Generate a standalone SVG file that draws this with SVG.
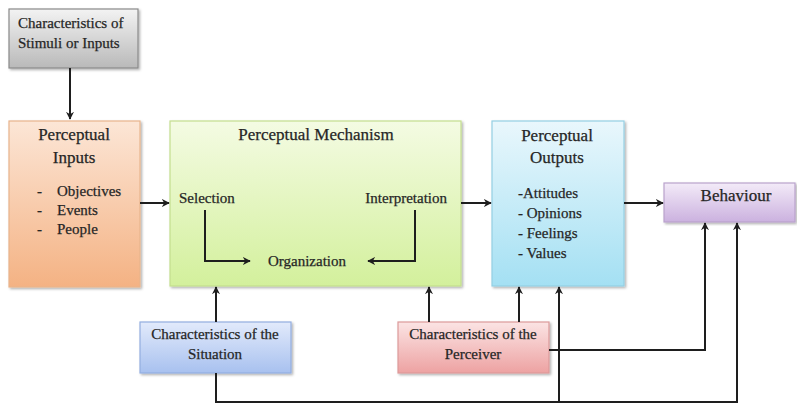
<svg xmlns="http://www.w3.org/2000/svg" width="797" height="403" viewBox="0 0 797 403">
<style>
text{font-family:"Liberation Serif","Times New Roman",serif;fill:#262626;font-size:15px;stroke:#262626;stroke-width:0.25}
.h{font-size:17px}
.m{text-anchor:middle}
.box{stroke-width:1.2}
.c{fill:none;stroke:#1e1e1e;stroke-width:2}
</style>
<defs>
<marker id="ah" viewBox="0 0 10 10" refX="9" refY="5" markerWidth="8" markerHeight="8" orient="auto" markerUnits="userSpaceOnUse">
<path d="M0,0 L10,5 L0,10 L3,5 z" fill="#1e1e1e"/>
</marker>
<filter id="sh" x="-5%" y="-5%" width="112%" height="115%">
<feDropShadow dx="1.5" dy="1.5" stdDeviation="1.2" flood-color="#000" flood-opacity="0.3"/>
</filter>
<linearGradient id="gGray" x1="0" y1="0" x2="0" y2="1"><stop offset="0" stop-color="#f3f3f3"/><stop offset="1" stop-color="#b9b9b9"/></linearGradient>
<linearGradient id="gOr" x1="0" y1="0" x2="0" y2="1"><stop offset="0" stop-color="#fce6d6"/><stop offset="1" stop-color="#f4b283"/></linearGradient>
<linearGradient id="gGr" x1="0" y1="0" x2="0" y2="1"><stop offset="0" stop-color="#f4fbe3"/><stop offset="1" stop-color="#d3f09c"/></linearGradient>
<linearGradient id="gBl" x1="0" y1="0" x2="0" y2="1"><stop offset="0" stop-color="#e9f7fc"/><stop offset="1" stop-color="#a4e0f3"/></linearGradient>
<linearGradient id="gPu" x1="0" y1="0" x2="0" y2="1"><stop offset="0" stop-color="#f3ebf8"/><stop offset="1" stop-color="#cbb1df"/></linearGradient>
<linearGradient id="gSb" x1="0" y1="0" x2="0" y2="1"><stop offset="0" stop-color="#e2eafb"/><stop offset="1" stop-color="#a8c1ef"/></linearGradient>
<linearGradient id="gRd" x1="0" y1="0" x2="0" y2="1"><stop offset="0" stop-color="#fbe4e4"/><stop offset="1" stop-color="#eda2a2"/></linearGradient>
</defs>

<g id="stimuli">
<rect class="box" x="9" y="9" width="129" height="59" fill="url(#gGray)" stroke="#8a8a8a" filter="url(#sh)"/>
<text x="18" y="28">Characteristics of</text>
<text x="18" y="48">Stimuli or Inputs</text>
</g>

<g id="inputs">
<rect class="box" x="9" y="121" width="131" height="166" fill="url(#gOr)" stroke="#e8b48c" filter="url(#sh)"/>
<text class="h m" x="74" y="140">Perceptual</text>
<text class="h m" x="74" y="163">Inputs</text>
<text x="37" y="196">-</text><text x="57" y="196">Objectives</text>
<text x="37" y="215">-</text><text x="57" y="215">Events</text>
<text x="37" y="234">-</text><text x="57" y="234">People</text>
</g>

<g id="mechanism">
<rect class="box" x="170" y="121" width="291" height="165" fill="url(#gGr)" stroke="#c4de8e" filter="url(#sh)"/>
<text class="h m" x="316" y="140">Perceptual Mechanism</text>
<text x="179" y="203">Selection</text>
<text x="447" y="203" text-anchor="end">Interpretation</text>
<text class="m" x="307" y="266">Organization</text>
</g>

<g id="outputs">
<rect class="box" x="492" y="121" width="132" height="165" fill="url(#gBl)" stroke="#94cfe3" filter="url(#sh)"/>
<text class="h m" x="557" y="141">Perceptual</text>
<text class="h m" x="557" y="163">Outputs</text>
<text x="518" y="198">-Attitudes</text>
<text x="518" y="218">- Opinions</text>
<text x="518" y="238">- Feelings</text>
<text x="518" y="258">- Values</text>
</g>

<g id="behaviour">
<rect class="box" x="664" y="183" width="131" height="39" fill="url(#gPu)" stroke="#b9a2cc" filter="url(#sh)"/>
<text class="h m" x="736" y="201">Behaviour</text>
</g>

<g id="situation">
<rect class="box" x="140" y="322" width="151" height="51" fill="url(#gSb)" stroke="#93aee0" filter="url(#sh)"/>
<text class="m" x="215" y="339">Characteristics of the</text>
<text class="m" x="215" y="359">Situation</text>
</g>

<g id="perceiver">
<rect class="box" x="398" y="322" width="151" height="51" fill="url(#gRd)" stroke="#dc9a9a" filter="url(#sh)"/>
<text class="m" x="473" y="339">Characteristics of the</text>
<text class="m" x="473" y="359">Perceiver</text>
</g>

<g id="connectors">
<path class="c" d="M70,68 V119" marker-end="url(#ah)"/>
<path class="c" d="M140,203 H169" marker-end="url(#ah)"/>
<path class="c" d="M461,203 H491" marker-end="url(#ah)"/>
<path class="c" d="M624,203 H663" marker-end="url(#ah)"/>
<path class="c" d="M205,210 V261 H250" marker-end="url(#ah)"/>
<path class="c" d="M415,210 V261 H368" marker-end="url(#ah)"/>
<path class="c" d="M216,322 V287" marker-end="url(#ah)"/>
<path class="c" d="M429,322 V287" marker-end="url(#ah)"/>
<path class="c" d="M519,322 V287" marker-end="url(#ah)"/>
<path class="c" d="M549,350 H705 V223" marker-end="url(#ah)"/>
<path class="c" d="M216,373 V402 H737 V223" marker-end="url(#ah)"/>
<path class="c" d="M559,402 V287" marker-end="url(#ah)"/>
</g>
</svg>
